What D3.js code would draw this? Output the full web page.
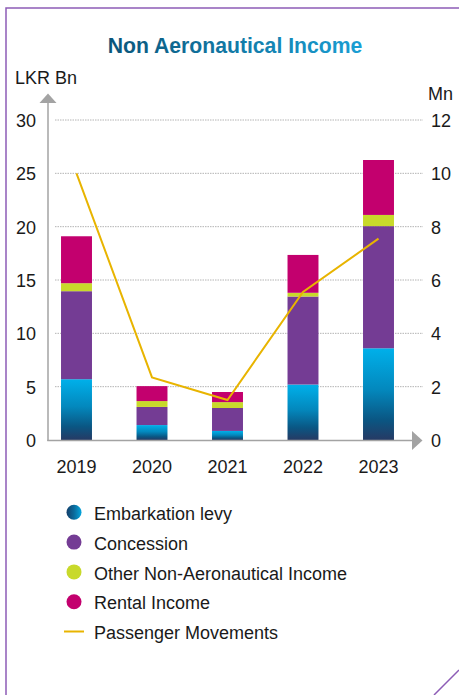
<!DOCTYPE html>
<html>
<head>
<meta charset="utf-8">
<script src="https://cdn.jsdelivr.net/npm/d3@7/dist/d3.min.js"></script>
<style>
  html, body { margin: 0; padding: 0; background: #fff; }
  svg { display: block; font-family: "Liberation Sans", Arial, Helvetica, sans-serif; }
</style>
</head>
<body>
<svg id="chart" width="459" height="695"></svg>
<script>
// Non aeronautical income (LKR Bn) by source, with passenger movements (Mn)
const years = ["2019", "2020", "2021", "2022", "2023"];
const embarkationLevy = [5.7, 1.4, 0.85, 5.2, 8.6];
const concession = [8.25, 1.7, 2.15, 8.25, 11.45];
const otherIncome = [0.75, 0.55, 0.55, 0.35, 1.05];
const rentalIncome = [4.4, 1.4, 0.95, 3.55, 5.15];
const passengerMovements = [10.0, 2.35, 1.5, 5.55, 7.55];

const leftTicks = [0, 5, 10, 15, 20, 25, 30];
const rightTicks = [0, 2, 4, 6, 8, 10, 12];

const seriesNames = ["Embarkation levy", "Concession", "Other Non-Aeronautical Income", "Rental Income"];
const seriesKeys = ["emb", "con", "oth", "ren"];
const seriesFill = ["url(#embGrad)", "#743c94", "#c8d92b", "#c3006e"];
const legendFill = ["url(#embLegendGrad)", "#743c94", "#c8d92b", "#c3006e"];
const lineColor = "#e8b400";

const svg = d3.select("#chart");
const defs = svg.append("defs");

// Vertical gradient for the embarkation levy bars
const eg = defs.append("linearGradient").attr("id", "embGrad")
  .attr("x1", 0).attr("y1", 0).attr("x2", 0).attr("y2", 1);
[["0%", "#00b0ea"], ["45%", "#0388bd"], ["78%", "#0a5683"], ["100%", "#263a64"]]
  .forEach(([o, c]) => eg.append("stop").attr("offset", o).attr("stop-color", c));

// Horizontal gradient for the embarkation legend swatch
const lg = defs.append("linearGradient").attr("id", "embLegendGrad")
  .attr("x1", 0).attr("y1", 0).attr("x2", 1).attr("y2", 0);
[["0%", "#143f6a"], ["50%", "#0a6b9c"], ["100%", "#05a6dd"]]
  .forEach(([o, c]) => lg.append("stop").attr("offset", o).attr("stop-color", c));

// Title gradient
const tg = defs.append("linearGradient").attr("id", "titleGrad")
  .attr("x1", 0).attr("y1", 0).attr("x2", 1).attr("y2", 0);
[["0%", "#0a557a"], ["100%", "#1a9fd4"]]
  .forEach(([o, c]) => tg.append("stop").attr("offset", o).attr("stop-color", c));

// Panel frame
svg.append("path")
  .attr("d", "M6,695 L6,8 L459,8 M459,670 L434,695")
  .attr("fill", "none").attr("stroke", "#8d5cb6").attr("stroke-width", 1.5);

// Title
svg.append("text")
  .attr("x", 235).attr("y", 52.5)
  .attr("text-anchor", "middle")
  .attr("font-size", 21.2).attr("font-weight", "bold")
  .attr("fill", "url(#titleGrad)")
  .text("Non Aeronautical Income");

// Scales
const x = d3.scaleBand().domain(years).range([38.75, 416.25]).paddingInner(0.59).paddingOuter(0.295);
const y = d3.scaleLinear().domain([0, 30]).range([440, 120]);
const y2 = d3.scaleLinear().domain([0, 12]).range([440, 120]);

// Grid lines
svg.append("g")
  .selectAll("line").data(leftTicks.filter(d => d > 0)).join("line")
  .attr("x1", 55).attr("x2", 423)
  .attr("y1", d => y(d)).attr("y2", d => y(d))
  .attr("stroke", "#b4b4b4").attr("stroke-width", 1)
  .attr("stroke-dasharray", "1.5,1");

// Stacked bars
const rows = years.map((yr, i) => ({
  year: yr, emb: embarkationLevy[i], con: concession[i], oth: otherIncome[i], ren: rentalIncome[i]
}));
const stacked = d3.stack().keys(seriesKeys)(rows);
svg.append("g").selectAll("g").data(stacked).join("g")
  .attr("fill", (d, i) => seriesFill[i])
  .selectAll("rect").data(d => d).join("rect")
  .attr("x", d => x(d.data.year))
  .attr("width", x.bandwidth())
  .attr("y", d => y(d[1]))
  .attr("height", d => y(d[0]) - y(d[1]));

// Axis lines with arrowheads
const axisColor = "#a3a3a3";
svg.append("line").attr("x1", 48).attr("x2", 48).attr("y1", 100).attr("y2", 441)
  .attr("stroke", axisColor).attr("stroke-width", 1.5);
svg.append("path").attr("d", "M48,93.5 L56.5,103 L39.5,103 Z").attr("fill", axisColor);
svg.append("line").attr("x1", 47.25).attr("x2", 414).attr("y1", 440.5).attr("y2", 440.5)
  .attr("stroke", axisColor).attr("stroke-width", 1.5);
svg.append("path").attr("d", "M422.5,440.5 L412,431 L412,450 Z").attr("fill", axisColor);

// Left axis labels
const leftAxis = d3.axisLeft(y).tickValues(leftTicks).tickSize(0).tickPadding(0);
const gl = svg.append("g").attr("transform", "translate(36,0)").call(leftAxis);
gl.select(".domain").remove();
gl.selectAll("text").attr("font-size", 18).attr("fill", "#1a1a1a")
  .attr("font-family", "Liberation Sans, Arial, sans-serif").attr("dy", "0.36em");

// Right axis labels
const rightAxis = d3.axisRight(y2).tickValues(rightTicks).tickSize(0).tickPadding(0);
const gr = svg.append("g").attr("transform", "translate(431,0)").call(rightAxis);
gr.select(".domain").remove();
gr.selectAll("text").attr("font-size", 18).attr("fill", "#1a1a1a")
  .attr("font-family", "Liberation Sans, Arial, sans-serif").attr("dy", "0.36em");

// Category labels
const bottomAxis = d3.axisBottom(x).tickSize(0).tickPadding(0);
const gb = svg.append("g").attr("transform", "translate(0,460)").call(bottomAxis);
gb.select(".domain").remove();
gb.selectAll("text").attr("font-size", 18).attr("fill", "#1a1a1a")
  .attr("font-family", "Liberation Sans, Arial, sans-serif").attr("dy", "0.73em");

// Axis units
svg.append("text").attr("x", 15).attr("y", 83.5).attr("font-size", 18).attr("fill", "#1a1a1a").text("LKR Bn");
svg.append("text").attr("x", 453).attr("y", 100).attr("text-anchor", "end").attr("font-size", 18).attr("fill", "#1a1a1a").text("Mn");

// Passenger movements line
const line = d3.line()
  .x((d, i) => x(years[i]) + x.bandwidth() / 2)
  .y(d => y2(d));
svg.append("path").datum(passengerMovements)
  .attr("d", line)
  .attr("fill", "none").attr("stroke", lineColor).attr("stroke-width", 2)
  .attr("stroke-linejoin", "miter");

// Legend
const legendY0 = 512.3, legendStep = 29.8;
const legend = svg.append("g");
seriesNames.forEach((name, i) => {
  const cy = legendY0 + i * legendStep;
  legend.append("circle").attr("cx", 74).attr("cy", cy).attr("r", 7.5).attr("fill", legendFill[i]);
  legend.append("text").attr("x", 94).attr("y", cy + 7.6)
    .attr("font-size", 18).attr("fill", "#1a1a1a").text(name);
});
const ly = legendY0 + 4 * legendStep;
legend.append("line").attr("x1", 64).attr("x2", 84).attr("y1", ly).attr("y2", ly)
  .attr("stroke", lineColor).attr("stroke-width", 2);
legend.append("text").attr("x", 94).attr("y", ly + 7.6)
  .attr("font-size", 18).attr("fill", "#1a1a1a").text("Passenger Movements");
</script>
</body>
</html>
